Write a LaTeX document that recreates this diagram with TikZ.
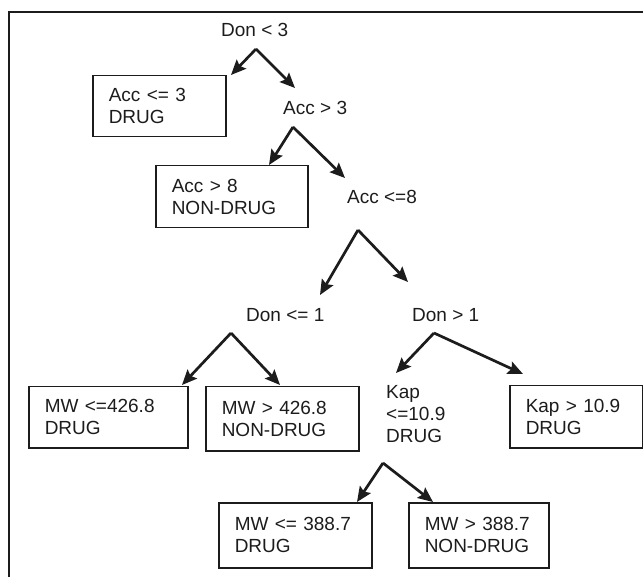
\documentclass[tikz,border=0pt]{standalone}
\usepackage{fontspec}
\setmainfont{Liberation Sans}
\usetikzlibrary{arrows.meta}
\definecolor{ink}{HTML}{1C1C1C}
\tikzset{
  leafbox/.style={draw=ink, line width=1.5pt, rectangle, inner xsep=16pt, inner ysep=0pt,
    align=left, anchor=north west, text=ink, font=\fontsize{19}{22}\selectfont},
  cond/.style={anchor=west, inner sep=0pt, align=left, text=ink, font=\fontsize{19}{22}\selectfont},
  branch/.style={draw=ink, line width=2.7pt, -{Stealth[length=15pt,width=13pt,inset=2.5pt]}},
  frameline/.style={draw=ink, line width=1.3pt}
}
\begin{document}
\begin{tikzpicture}[x=1pt,y=-1pt]
\useasboundingbox (0,0) rectangle (643,577);
% frame
\coordinate (fA) at (643,12);
\coordinate (fB) at (9,12);
\coordinate (fC) at (9,577);
\draw[frameline] (fA) -- (fB) -- (fC);
% condition texts
\node[cond] (don3) at (221,30) {Don < 3};
\node[cond] (acc3) at (283,108) {Acc > 3};
\node[cond] (acc8) at (347,197) {Acc <=8};
\node[cond] (don1a) at (246,315) {Don <= 1};
\node[cond] (don1b) at (412,315) {Don > 1};
\node[cond] (kap) at (386,414) {Kap\\<=10.9\\DRUG};
% leaf boxes
\node[leafbox, text width=101pt, minimum height=61pt] (b1) at (92,75) {Acc <= 3\\DRUG};
\node[leafbox, text width=120pt, minimum height=62pt] (b2) at (155,165) {Acc > 8\\NON-DRUG};
\node[leafbox, text width=127pt, minimum height=61pt] (b3) at (28,386) {MW <=426.8\\DRUG};
\node[leafbox, text width=121pt, minimum height=64pt] (b4) at (205,386) {MW > 426.8\\NON-DRUG};
\node[leafbox, text width=101pt, minimum height=62pt] (b5) at (509,385) {Kap > 10.9\\DRUG};
\node[leafbox, text width=121pt, minimum height=65pt] (b6) at (218,502) {MW <= 388.7\\DRUG};
\node[leafbox, text width=108pt, minimum height=65pt] (b7) at (408,502) {MW > 388.7\\NON-DRUG};
% apex and tip coordinates
\coordinate (a1) at (256,49);  \coordinate (t1l) at (231,75);  \coordinate (t1r) at (295,88);
\coordinate (a2) at (293,127); \coordinate (t2l) at (269,165); \coordinate (t2r) at (345,178);
\coordinate (a3) at (358,230); \coordinate (t3l) at (320,295); \coordinate (t3r) at (408,282);
\coordinate (a4) at (231,333); \coordinate (t4l) at (182,385); \coordinate (t4r) at (280,385);
\coordinate (a5) at (434,333); \coordinate (t5l) at (396,373); \coordinate (t5r) at (523,374);
\coordinate (a6) at (383,463); \coordinate (t6l) at (357,502); \coordinate (t6r) at (433,502);
% branches
\draw[branch] (a1) -- (t1l);
\draw[branch] (a1) -- (t1r);
\draw[branch] (a2) -- (t2l);
\draw[branch] (a2) -- (t2r);
\draw[branch] (a3) -- (t3l);
\draw[branch] (a3) -- (t3r);
\draw[branch] (a4) -- (t4l);
\draw[branch] (a4) -- (t4r);
\draw[branch] (a5) -- (t5l);
\draw[branch] (a5) -- (t5r);
\draw[branch] (a6) -- (t6l);
\draw[branch] (a6) -- (t6r);
\end{tikzpicture}
\end{document}
